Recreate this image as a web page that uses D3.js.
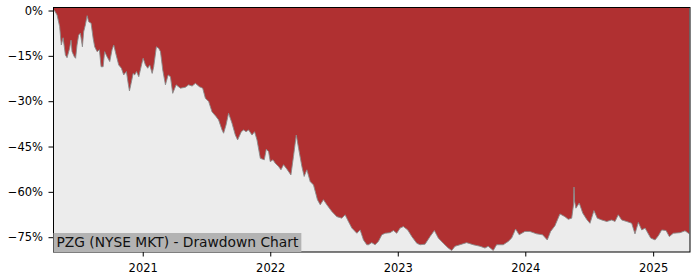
<!DOCTYPE html>
<html>
<head>
<meta charset="utf-8">
<script src="https://cdn.jsdelivr.net/npm/d3@7"></script>
<style>
  html, body { margin: 0; padding: 0; background: #fff; }
  .axis text { font-family: 'DejaVu Sans', sans-serif; font-size: 11.5px; fill: #000; }
  .axis path, .axis line { stroke: #000; }
</style>
</head>
<body>
<div class="js-chart"></div>
<script>
// Dates as fractional years, drawdown in percent.
var years = [
  2020.302, 2020.309, 2020.330, 2020.350, 2020.363, 2020.377, 2020.395, 2020.408,
  2020.428, 2020.439, 2020.447, 2020.465, 2020.475, 2020.486, 2020.499, 2020.512,
  2020.528, 2020.538, 2020.551, 2020.565, 2020.577, 2020.596, 2020.612, 2020.624,
  2020.643, 2020.661, 2020.674, 2020.690, 2020.702, 2020.721, 2020.742, 2020.760,
  2020.773, 2020.792, 2020.812, 2020.833, 2020.851, 2020.872, 2020.886, 2020.896,
  2020.909, 2020.925, 2020.937, 2020.951, 2020.969, 2020.987, 2021.003, 2021.021,
  2021.039, 2021.055, 2021.074, 2021.086, 2021.107, 2021.125, 2021.139, 2021.157,
  2021.178, 2021.199, 2021.217, 2021.235, 2021.262, 2021.295, 2021.334, 2021.360,
  2021.387, 2021.413, 2021.444, 2021.470, 2021.491, 2021.517, 2021.543, 2021.575,
  2021.595, 2021.622, 2021.634, 2021.653, 2021.673, 2021.700, 2021.726, 2021.744,
  2021.773, 2021.791, 2021.810, 2021.830, 2021.857, 2021.877, 2021.896, 2021.922,
  2021.953, 2021.969, 2021.987, 2022.000, 2022.021, 2022.039, 2022.065, 2022.084,
  2022.104, 2022.131, 2022.162, 2022.182, 2022.204, 2022.222, 2022.248, 2022.266,
  2022.287, 2022.313, 2022.339, 2022.370, 2022.392, 2022.417, 2022.444, 2022.483,
  2022.522, 2022.561, 2022.587, 2022.613, 2022.640, 2022.679, 2022.705, 2022.731,
  2022.757, 2022.770, 2022.796, 2022.822, 2022.848, 2022.875, 2022.901, 2022.940,
  2022.966, 2022.992, 2023.018, 2023.044, 2023.078, 2023.110, 2023.149, 2023.175,
  2023.214, 2023.253, 2023.287, 2023.318, 2023.357, 2023.396, 2023.423, 2023.449,
  2023.488, 2023.540, 2023.592, 2023.645, 2023.684, 2023.709, 2023.749, 2023.775,
  2023.827, 2023.866, 2023.893, 2023.924, 2023.952, 2023.997, 2024.036, 2024.089,
  2024.135, 2024.172, 2024.198, 2024.232, 2024.271, 2024.310, 2024.336, 2024.363,
  2024.378, 2024.381, 2024.385, 2024.396, 2024.422, 2024.449, 2024.480, 2024.506,
  2024.537, 2024.563, 2024.598, 2024.637, 2024.676, 2024.702, 2024.727, 2024.754,
  2024.793, 2024.832, 2024.858, 2024.884, 2024.911, 2024.937, 2024.981, 2025.015,
  2025.041, 2025.067, 2025.101, 2025.127, 2025.158, 2025.211, 2025.250, 2025.283
];
var drawdown = [
  0, 0, -1.5, -5.3, -11.4, -9, -14.7, -15.6,
  -12.5, -9.8, -13.6, -15.3, -15.8, -11.4, -8.1, -7.5,
  -12, -7, -4.8, -1.7, -3.7, -4.2, -9.2, -12,
  -13.6, -13, -18.6, -18.6, -13.6, -15.3, -16.9, -13,
  -11.4, -14.7, -18, -19.1, -21.3, -20.2, -24.1, -26.6,
  -24.1, -20.8, -21.3, -20.2, -21.9, -18.6, -15.8, -18,
  -19.1, -18, -20.8, -18.6, -12, -12.5, -13.6, -19.7,
  -24.6, -21.3, -21.9, -27.4, -24.6, -25.7, -25.4, -24.6,
  -25, -24.1, -25.2, -25.7, -29, -30.1, -33.5, -35.1,
  -36.2, -39.5, -40.6, -37.9, -34, -37.3, -41.2, -42.8,
  -40.1, -39.5, -40.1, -39.5, -41.2, -40.1, -42.8, -48.9,
  -49.4, -45.9, -46.7, -50, -49.4, -50.5, -51.6, -52.7,
  -51, -52.5, -54.4, -48.3, -41.2, -45.6, -51.6, -54.9,
  -52.7, -56.6, -57.7, -62.6, -64.3, -62.6, -64.3, -66.5,
  -68.2, -68.7, -67.6, -69.8, -72, -73.7, -72.6, -75.9,
  -77.5, -77.5, -76.8, -77.5, -76.4, -74.2, -73.7, -73.5,
  -72.8, -73.7, -72, -71.5, -72.6, -74.8, -77, -77.5,
  -77.3, -74.8, -72.8, -75.3, -77, -78.6, -79.4, -78,
  -77.5, -76.8, -77.5, -78, -78.6, -78, -79.4, -77.5,
  -77.5, -76.4, -75.3, -72.3, -74.2, -73.1, -73.1, -73.9,
  -74.2, -75.9, -73.1, -71.2, -67.3, -68.2, -69.1, -68.7,
  -64, -58.4, -63, -65.4, -63.7, -67, -69.1, -70.4,
  -66.2, -68.7, -69.3, -69.8, -69.3, -69.8, -67.6, -69.3,
  -69.8, -70.4, -73.9, -70.1, -72.6, -72, -75.3, -75.9,
  -74.5, -72.6, -72.8, -74.8, -73.7, -73.5, -72.9, -73.9
];
var yTicks = [0, -15, -30, -45, -60, -75];
var xTickYears = [2021, 2022, 2023, 2024, 2025];
var title = 'PZG (NYSE MKT) - Drawdown Chart';

;(function() {
  'use strict';

  var totalW = 700,
      totalH = 280;
  var margin = {top: 7.5, right: 10, bottom: 28, left: 53.5};
  var chartW = totalW - margin.left - margin.right;
  var chartH = totalH - margin.top - margin.bottom;

  // Fractional year -> Date.
  function toDate(y) {
    var yr = Math.floor(y);
    var start = new Date(yr, 0, 1).getTime();
    var end = new Date(yr + 1, 0, 1).getTime();
    return new Date(start + (y - yr) * (end - start));
  }

  var data = years.map(function(y, i) {
    return {date: toDate(y), value: drawdown[i]};
  });

  var x = d3.scaleTime()
      .domain([toDate(2020.302), toDate(2025.289)])
      .range([0, chartW]);

  var y = d3.scaleLinear()
      .domain([-79.9, 1])
      .range([chartH, 0]);

  var svg = d3.select('.js-chart').append('svg')
      .attr('width', totalW)
      .attr('height', totalH);

  var g = svg.append('g')
      .attr('transform', 'translate(' + margin.left + ',' + margin.top + ')');

  // Plot background.
  g.append('rect')
      .attr('width', chartW)
      .attr('height', chartH)
      .attr('fill', '#ececec');

  g.append('clipPath').attr('id', 'clip')
    .append('rect')
      .attr('width', chartW)
      .attr('height', chartH);

  var plot = g.append('g').attr('clip-path', 'url(#clip)');

  // Red area from the top of the axes down to the drawdown line.
  plot.append('path')
      .datum(data)
      .attr('fill', '#b03031')
      .attr('d', d3.area()
        .x(function(d) { return x(d.date); })
        .y0(0)
        .y1(function(d) { return y(d.value); }));

  plot.append('path')
      .datum(data)
      .attr('fill', 'none')
      .attr('stroke', '#8a8a8a')
      .attr('stroke-width', 0.9)
      .attr('d', d3.line()
        .x(function(d) { return x(d.date); })
        .y(function(d) { return y(d.value); }));

  // Axes.
  var yAxis = g.append('g')
      .classed('axis', true)
      .call(d3.axisLeft(y)
        .tickValues(yTicks)
        .tickSize(5)
        .tickPadding(5.5)
        .tickFormat(function(d) { return (d < 0 ? '\u2212' : '') + Math.abs(d) + '%'; }));

  var xAxis = g.append('g')
      .classed('axis', true)
      .attr('transform', 'translate(0,' + chartH + ')')
      .call(d3.axisBottom(x)
        .tickValues(xTickYears.map(function(yr) { return new Date(yr, 0, 1); }))
        .tickSize(4.5)
        .tickPadding(7)
        .tickFormat(d3.timeFormat('%Y')));

  yAxis.select('.domain').remove();
  xAxis.select('.domain').remove();

  // Frame round the plot.
  g.append('rect')
      .attr('width', chartW)
      .attr('height', chartH)
      .attr('fill', 'none')
      .attr('stroke', '#000')
      .attr('stroke-width', 1);

  // Title label in a grey box at bottom left.
  var label = g.append('g');
  var labelBox = label.append('rect')
      .attr('fill', '#b3b3b3');
  var labelText = label.append('text')
      .attr('x', 3)
      .attr('y', chartH - 5.5)
      .style('font-family', "'DejaVu Sans', sans-serif")
      .style('font-size', '13.8px')
      .attr('fill', '#111')
      .text(title);
  var tw = labelText.node().getComputedTextLength();
  labelBox
      .attr('x', 0)
      .attr('y', chartH - 19)
      .attr('width', tw + 6)
      .attr('height', 19);
}());
</script>
</body>
</html>
